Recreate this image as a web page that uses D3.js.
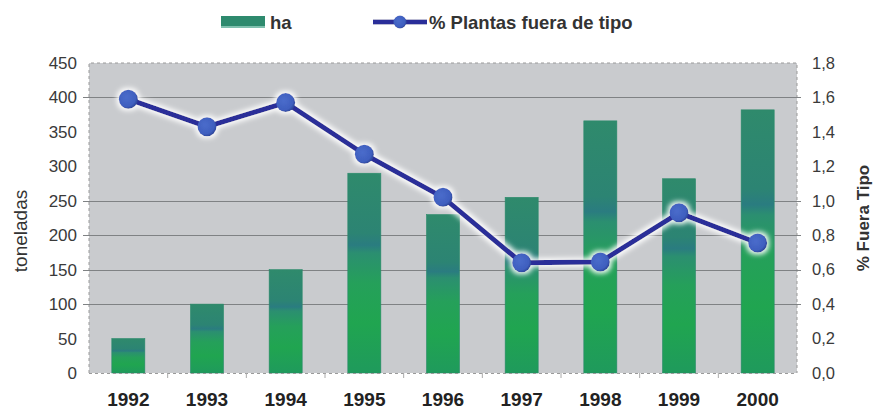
<!DOCTYPE html>
<html><head><meta charset="utf-8">
<script src="https://cdn.jsdelivr.net/npm/d3@7"></script>
<style>
html,body{margin:0;padding:0;background:#fff;}
svg{display:block;font-family:"Liberation Sans",Arial,sans-serif;}
</style></head>
<body><svg id="c" width="886" height="413"></svg>
<script>
const years = ["1992","1993","1994","1995","1996","1997","1998","1999","2000"];
const ha = [50,100,150,290,230,255,366,282,382];
const pctFuera = [1.59,1.43,1.57,1.27,1.02,0.64,0.645,0.93,0.755];
const leftTicks = [0,50,100,150,200,250,300,350,400,450];
const rightTicks = [0,0.2,0.4,0.6,0.8,1.0,1.2,1.4,1.6,1.8];
const gridVals = [100,150,200,250,400];
const legendLabels = ["ha","% Plantas fuera de tipo"];
const axisTitles = ["toneladas","% Fuera Tipo"];

const W=886,H=413, L=89, R=797, T=63, B=373;
const svg=d3.select("#c");
const defs=svg.append("defs");

const bg=defs.append("linearGradient").attr("id","barg").attr("x1",0).attr("y1",0).attr("x2",0).attr("y2",1);
[[0,"#2f8a6c"],[0.3,"#2c8473"],[0.36,"#2a7c80"],[0.4,"#2b8f70"],[0.55,"#25a05a"],[0.75,"#20a550"],[1,"#1f9a5c"]]
 .forEach(s=>bg.append("stop").attr("offset",s[0]).attr("stop-color",s[1]));

const rg=defs.append("radialGradient").attr("id","dotg").attr("cx","40%").attr("cy","40%").attr("r","60%");
rg.append("stop").attr("offset",0).attr("stop-color","#4a6ccb");
rg.append("stop").attr("offset",0.8).attr("stop-color","#3f5fbf");
rg.append("stop").attr("offset",1).attr("stop-color","#2f4aa0");

const f=defs.append("filter").attr("id","glow").attr("x","-10%").attr("y","-20%").attr("width","120%").attr("height","140%");
f.append("feMorphology").attr("in","SourceAlpha").attr("operator","dilate").attr("radius",1.5).attr("result","d");
f.append("feGaussianBlur").attr("in","d").attr("stdDeviation",2.5).attr("result","b");
f.append("feFlood").attr("flood-color","#ffffff").attr("flood-opacity",0.95);
f.append("feComposite").attr("in2","b").attr("operator","in").attr("result","g");
const fm=f.append("feMerge"); fm.append("feMergeNode").attr("in","g"); fm.append("feMergeNode").attr("in","SourceGraphic");

const x=d3.scaleBand().domain(years).range([L,R]).paddingInner(0.58).paddingOuter(0.29);
const yL=d3.scaleLinear().domain([0,450]).range([B,T]);
const yR=d3.scaleLinear().domain([0,1.8]).range([B,T]);
const loc=d3.formatLocale({decimal:",",thousands:".",grouping:[3],currency:["",""]});
const fmt=loc.format(".1f");

// plot background
svg.append("rect").attr("x",L).attr("y",T).attr("width",R-L).attr("height",B-T).attr("fill","#c9cbce");
// dashed border
const bd=svg.append("g").attr("stroke","#9a9a9a").attr("stroke-width",1).attr("stroke-dasharray","3,3").attr("fill","none");
bd.append("path").attr("d",`M${L},${B}V${T}H${R}V${B}`);
// gridlines
svg.append("g").selectAll("line").data(gridVals).join("line")
 .attr("x1",L-6).attr("x2",R+4).attr("y1",d=>Math.round(yL(d))+0.5).attr("y2",d=>Math.round(yL(d))+0.5)
 .attr("stroke","#7f8284").attr("stroke-width",1);

// bars
svg.append("g").selectAll("rect").data(years).join("rect")
 .attr("x",d=>x(d)).attr("width",x.bandwidth())
 .attr("y",(d,i)=>yL(ha[i])).attr("height",(d,i)=>B-yL(ha[i]))
 .attr("fill","url(#barg)").attr("stroke","#2a8a6a").attr("stroke-width",0.6);

// bottom axis line (dashed) and ticks
svg.append("line").attr("x1",L).attr("x2",R).attr("y1",B+0.5).attr("y2",B+0.5).attr("stroke","#9a9a9a").attr("stroke-dasharray","3,3");
const xAxis=d3.axisBottom(x).tickSize(0).tickPadding(20);
const gx=svg.append("g").attr("transform",`translate(0,${B})`).call(xAxis);
gx.select(".domain").remove();
gx.selectAll("text").attr("font-family","'Liberation Sans',Arial,sans-serif").attr("font-size",19).attr("font-weight","bold").attr("fill","#222");
svg.append("g").selectAll("line").data(years.slice(1)).join("line")
 .attr("x1",d=>x(d)-x.step()*x.paddingInner()/2).attr("x2",d=>x(d)-x.step()*x.paddingInner()/2)
 .attr("y1",B).attr("y2",B+5).attr("stroke","#aaa");

// left axis
const gl=svg.append("g").attr("transform",`translate(${L},0)`).call(d3.axisLeft(yL).tickValues(leftTicks).tickSize(0).tickPadding(12));
gl.select(".domain").remove();
gl.selectAll("text").attr("font-family","'Liberation Sans',Arial,sans-serif").attr("font-size",17).attr("fill","#3a3a3a");
// right axis
const gr=svg.append("g").attr("transform",`translate(${R},0)`).call(d3.axisRight(yR).tickValues(rightTicks).tickFormat(fmt).tickSize(0).tickPadding(15));
gr.select(".domain").remove();
gr.selectAll("text").attr("font-family","'Liberation Sans',Arial,sans-serif").attr("font-size",16.5).attr("fill","#3a3a3a");

// axis titles
svg.append("text").attr("transform",`translate(27,${(T+B)/2+13}) rotate(-90)`).attr("text-anchor","middle")
 .attr("font-size",19).attr("fill","#333").text(axisTitles[0]);
svg.append("text").attr("transform",`translate(869,${(T+B)/2}) rotate(-90)`).attr("text-anchor","middle")
 .attr("font-size",17).attr("font-weight","bold").attr("fill","#333").text(axisTitles[1]);

// line series
const pts=years.map((d,i)=>[x(d)+x.bandwidth()/2,yR(pctFuera[i])]);
const lg=svg.append("g").attr("filter","url(#glow)");
lg.append("path").attr("d",d3.line()(pts)).attr("fill","none").attr("stroke","#2b2f99").attr("stroke-width",5).attr("stroke-linejoin","round");
lg.selectAll("circle").data(pts).join("circle").attr("cx",d=>d[0]).attr("cy",d=>d[1]).attr("r",9.5).attr("fill","url(#dotg)");

// legend
const leg=svg.append("g");
leg.append("rect").attr("x",221).attr("y",16).attr("width",44).attr("height",12).attr("fill","#2e8a6e");
leg.append("rect").attr("x",221).attr("y",26).attr("width",44).attr("height",2).attr("fill","#7fc0ae");
leg.append("text").attr("x",270).attr("y",29).attr("font-size",18.5).attr("font-weight","bold").attr("fill","#333").text(legendLabels[0]);
const l2=leg.append("g").attr("filter","url(#glow)");
l2.append("line").attr("x1",373).attr("x2",427).attr("y1",22).attr("y2",22).attr("stroke","#2b2f99").attr("stroke-width",5);
l2.append("circle").attr("cx",400).attr("cy",22).attr("r",6.5).attr("fill","url(#dotg)");
leg.append("text").attr("x",429).attr("y",29).attr("font-size",18.5).attr("font-weight","bold").attr("fill","#333").text(legendLabels[1]);
</script></body></html>
